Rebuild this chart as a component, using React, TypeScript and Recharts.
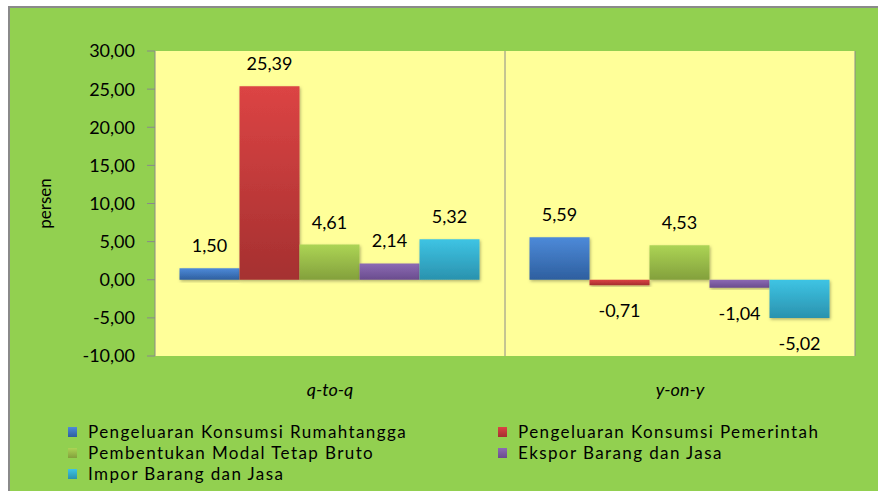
import React from "react";
import {
  BarChart,
  Bar,
  XAxis,
  YAxis,
  CartesianGrid,
  LabelList,
} from "recharts";

// periods on the x axis
const categories = ["q-to-q", "y-on-y"];

// growth per component, persen
const rumahtangga = [1.5, 5.59];
const pemerintah = [25.39, -0.71];
const modalTetap = [4.61, 4.53];
const ekspor = [2.14, -1.04];
const impor = [5.32, -5.02];

const yTicks = [-10, -5, 0, 5, 10, 15, 20, 25, 30];

const series = [
  { key: "rt", name: "Pengeluaran Konsumsi Rumahtangga", values: rumahtangga, top: "#4d8ad9", bottom: "#2e5f9f" },
  { key: "pm", name: "Pengeluaran Konsumsi Pemerintah", values: pemerintah, top: "#dc4444", bottom: "#a53030" },
  { key: "mt", name: "Pembentukan Modal Tetap Bruto", values: modalTetap, top: "#acd455", bottom: "#83a03c" },
  { key: "ek", name: "Ekspor Barang dan Jasa", values: ekspor, top: "#8c6bb4", bottom: "#6a4c8e" },
  { key: "im", name: "Impor Barang dan Jasa", values: impor, top: "#3ec4e4", bottom: "#2a92ae" },
];

const data = categories.map((cat, i) => {
  const row: Record<string, string | number> = { cat };
  series.forEach((s) => (row[s.key] = s.values[i]));
  return row;
});

const FONT = "Lato, 'Open Sans', sans-serif";
const fmt = (v: number) => v.toFixed(2).replace(".", ",");

function ValueLabel(props: any) {
  const { x, y, width, height, value } = props;
  const top = Math.min(y, y + height);
  const bottom = Math.max(y, y + height);
  const cy = value >= 0 ? top - 23 : bottom + 25;
  return (
    <text
      x={x + width / 2}
      y={cy}
      textAnchor="middle"
      dominantBaseline="central"
      fontSize={18}
      fontFamily={FONT}
      fill="#000"
    >
      {fmt(value)}
    </text>
  );
}

function LegendBox() {
  return (
    <div
      style={{
        position: "absolute",
        left: 68,
        top: 421,
        display: "grid",
        gridTemplateColumns: "430px 360px",
        rowGap: 0,
        fontFamily: FONT,
        fontSize: 17,
        letterSpacing: 1.4,
        color: "#000",
      }}
    >
      {series.map((s) => (
        <div key={s.key} style={{ display: "flex", alignItems: "center", height: 21 }}>
          <span
            style={{
              width: 9,
              height: 10,
              marginRight: 11,
              background: `linear-gradient(${s.top}, ${s.bottom})`,
            }}
          />
          <span>{s.name}</span>
        </div>
      ))}
    </div>
  );
}

export default function App() {
  return (
    <div style={{ position: "absolute", left: 0, top: 0, width: 878, height: 491, background: "#fff", overflow: "hidden" }}>
      <div
        style={{
          position: "absolute",
          left: 8,
          top: 6,
          width: 890,
          height: 500,
          background: "#92d050",
          borderLeft: "2px solid #8a8a8a",
          borderTop: "2px solid #8a8a8a",
        }}
      />
      <div style={{ position: "absolute", left: 0, top: 0 }}>
        <BarChart
          width={878}
          height={491}
          data={data}
          margin={{ top: 51, right: 23, left: 0, bottom: 0 }}
          barCategoryGap="7%"
          barGap={0}
        >
          <defs>
            {series.map((s) => (
              <linearGradient key={s.key} id={`g-${s.key}`} x1="0" y1="0" x2="0" y2="1">
                <stop offset="0%" stopColor={s.top} />
                <stop offset="100%" stopColor={s.bottom} />
              </linearGradient>
            ))}
            <filter id="shadow" x="-10%" y="-10%" width="120%" height="130%">
              <feDropShadow dx="1" dy="1.5" stdDeviation="1.5" floodColor="#000" floodOpacity="0.3" />
            </filter>
          </defs>
          <CartesianGrid
            fill="#ffff99"
            horizontal={false}
            stroke="#8a8a8a"
            verticalCoordinatesGenerator={({ offset }: any) => [
              offset.left + offset.width / 2,
              offset.left + offset.width,
            ]}
          />
          <XAxis
            dataKey="cat"
            height={135}
            axisLine={false}
            tickLine={false}
            tickSize={0}
            tickMargin={27}
            tick={{ fontSize: 18, fontStyle: "italic", fontFamily: FONT, fill: "#000" }}
          />
          <YAxis
            width={155}
            domain={[-10, 30]}
            ticks={yTicks}
            interval={0}
            tickFormatter={fmt}
            axisLine={{ stroke: "#8a8a8a" }}
            tickLine={{ stroke: "#8a8a8a" }}
            tickSize={8}
            tickMargin={12}
            tick={{ fontSize: 18, fontFamily: FONT, fill: "#000" }}
            label={{
              value: "persen",
              angle: -90,
              position: "insideLeft",
              offset: 45,
              style: { fontSize: 17, fontFamily: FONT, fill: "#000", textAnchor: "middle" },
            }}
          />
          {series.map((s) => (
            <Bar
              key={s.key}
              dataKey={s.key}
              name={s.name}
              fill={`url(#g-${s.key})`}
              filter="url(#shadow)"
              isAnimationActive={false}
            >
              <LabelList dataKey={s.key} content={ValueLabel} />
            </Bar>
          ))}
        </BarChart>
      </div>
      <LegendBox />
    </div>
  );
}
